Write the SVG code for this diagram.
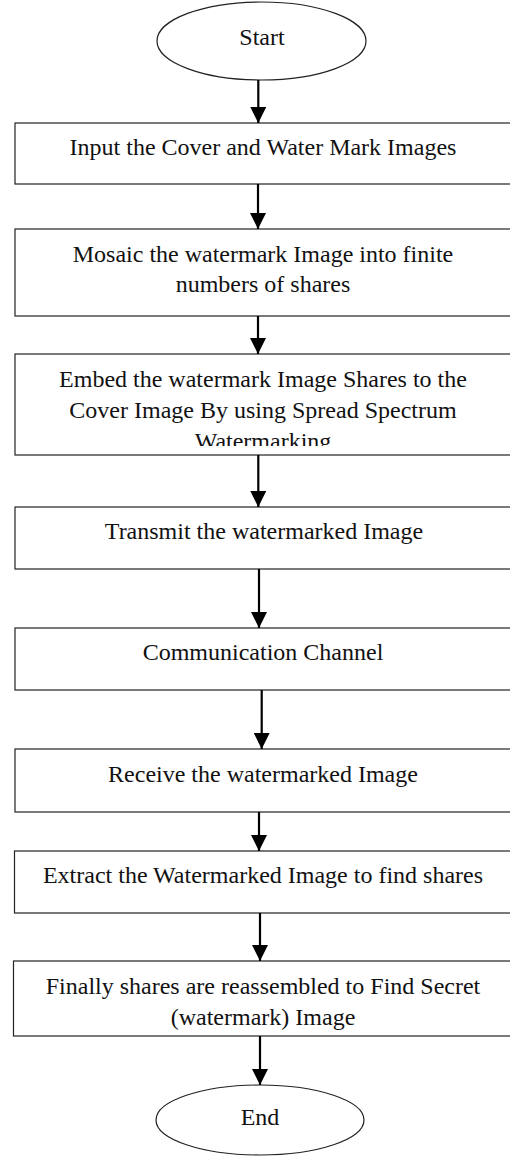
<svg xmlns="http://www.w3.org/2000/svg" width="510" height="1157" viewBox="0 0 510 1157">
<style>
.box{fill:#fff;stroke:#222;stroke-width:1.2}
.t{font-family:"Liberation Serif","Times New Roman",serif;font-size:24px;fill:#111;text-anchor:middle}
.c line{stroke:#000;stroke-width:2.2;marker-end:url(#ah)}
</style>
<defs>
<marker id="ah" markerUnits="userSpaceOnUse" markerWidth="16" markerHeight="16" refX="16" refY="8" orient="auto">
<path d="M0,0 L16,8 L0,16 z" fill="#000"/>
</marker>
<clipPath id="clip3"><rect x="0" y="354" width="510" height="92"/></clipPath>
</defs>
<rect width="510" height="1157" fill="#fff"/>
<g id="start"><ellipse class="box" cx="261.5" cy="41" rx="104.5" ry="39"/><text class="t" x="262" y="45">Start</text></g>
<g id="n1"><rect class="box" x="15" y="123" width="500" height="61"/><text class="t" x="263" y="155">Input the Cover and Water Mark Images</text></g>
<g id="n2"><rect class="box" x="15" y="229" width="500" height="87"/><text class="t" x="263" y="262">Mosaic the watermark Image into finite</text><text class="t" x="263" y="292">numbers of shares</text></g>
<g id="n3"><rect class="box" x="15" y="354" width="500" height="101"/><g clip-path="url(#clip3)"><text class="t" x="263" y="387">Embed the watermark Image Shares to the</text><text class="t" x="263" y="418">Cover Image By using Spread Spectrum</text><text class="t" x="263" y="449">Watermarking</text></g></g>
<g id="n4"><rect class="box" x="15" y="507" width="500" height="62"/><text class="t" x="264" y="539">Transmit the watermarked Image</text></g>
<g id="n5"><rect class="box" x="15" y="628" width="500" height="62"/><text class="t" x="263" y="660">Communication Channel</text></g>
<g id="n6"><rect class="box" x="15" y="749" width="500" height="63"/><text class="t" x="263" y="782">Receive the watermarked Image</text></g>
<g id="n7"><rect class="box" x="14.5" y="851" width="500" height="62"/><text class="t" x="263" y="883">Extract the Watermarked Image to find shares</text></g>
<g id="n8"><rect class="box" x="13.5" y="961" width="500" height="75"/><text class="t" x="263" y="994">Finally shares are reassembled to Find Secret</text><text class="t" x="263" y="1025">(watermark) Image</text></g>
<g id="end"><ellipse class="box" cx="260" cy="1120" rx="104" ry="35"/><text class="t" x="260" y="1125">End</text></g>
<g id="connectors" class="c">
<line x1="258.3" y1="80" x2="258.3" y2="123"/>
<line x1="258" y1="184" x2="258" y2="229"/>
<line x1="258" y1="316" x2="258" y2="354"/>
<line x1="258.3" y1="455" x2="258.3" y2="507"/>
<line x1="259" y1="569" x2="259" y2="628"/>
<line x1="261.7" y1="690" x2="261.7" y2="749"/>
<line x1="259" y1="812" x2="259" y2="851"/>
<line x1="260" y1="913" x2="260" y2="961"/>
<line x1="260" y1="1036" x2="260" y2="1085"/>
</g>
</svg>
